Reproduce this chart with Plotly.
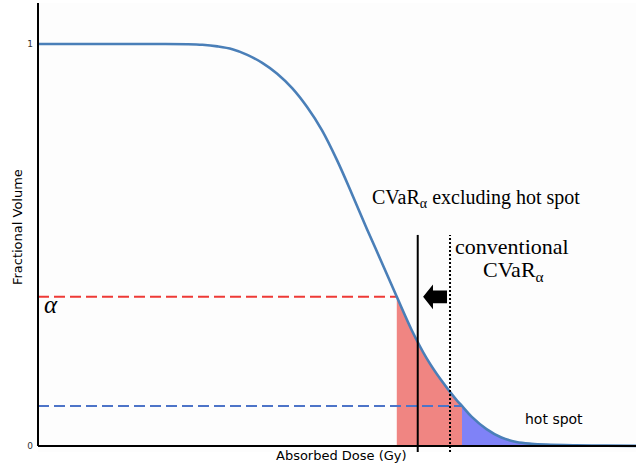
import plotly.graph_objects as go

# Dose-volume histogram curve (dose in arbitrary units 0..100, fractional volume)
dose = [0.0, 10.0, 20.0, 25.0, 27.5, 30.0, 32.5, 35.0, 37.5, 40.0, 42.5, 45.0, 47.5,
        50.0, 52.5, 55.0, 57.5, 60.0, 62.5, 65.0, 67.5, 70.0, 70.9, 72.5, 75.0, 77.5,
        80.0, 82.5, 85.0, 90.0, 95.0, 100.0]
volume = [1.0, 1.0, 1.0, 0.9995, 0.998, 0.994, 0.987, 0.973, 0.953, 0.926, 0.890, 0.843, 0.785,
          0.711, 0.627, 0.540, 0.456, 0.371, 0.288, 0.218, 0.162, 0.114, 0.0995, 0.073, 0.042, 0.021,
          0.010, 0.0055, 0.0035, 0.0018, 0.0008, 0.0003]

alpha = 0.371          # alpha level
var_dose = 60.0        # dose where curve meets alpha
hot_level = 0.0995     # hot spot level
hot_dose = 70.9        # dose where curve meets hot spot level
cvar_excl = 63.5       # CVaR excluding hot spot
cvar_conv = 68.9       # conventional CVaR
vline_top = 0.525
vline_bottom = -0.015

# arrow (pointing left, at alpha level)
arrow_tip = 64.4
arrow_neck = 66.05
arrow_tail = 68.4
arrow_head_half = 0.031
arrow_shaft_half = 0.016

ytick_vals = [0, 1]
ytick_text = ["0", "1"]

red_x = [d for d in dose if var_dose <= d <= hot_dose]
red_y = [v for d, v in zip(dose, volume) if var_dose <= d <= hot_dose]
blue_x = [d for d in dose if d >= hot_dose]
blue_y = [v for d, v in zip(dose, volume) if d >= hot_dose]

fig = go.Figure()
fig.add_trace(go.Scatter(x=red_x, y=red_y, mode="lines", line=dict(width=0, shape="spline"),
                         fill="tozeroy", fillcolor="#f08582", hoverinfo="skip"))
fig.add_trace(go.Scatter(x=blue_x, y=blue_y, mode="lines", line=dict(width=0, shape="spline"),
                         fill="tozeroy", fillcolor="#7f82f7", hoverinfo="skip"))
fig.add_trace(go.Scatter(x=[0, var_dose], y=[alpha, alpha], mode="lines",
                         line=dict(color="#ee3a36", width=2, dash="11px,5px")))
fig.add_trace(go.Scatter(x=[0, hot_dose], y=[hot_level, hot_level], mode="lines",
                         line=dict(color="#4d74c8", width=2, dash="11px,5px")))
fig.add_trace(go.Scatter(x=dose, y=volume, mode="lines",
                         line=dict(color="#4a7fb8", width=2.6, shape="spline", smoothing=1.0)))

shapes = [
    # axes lines
    dict(type="line", xref="paper", yref="y", x0=0, x1=0, y0=0, y1=1.102,
         line=dict(color="black", width=2)),
    dict(type="line", xref="paper", yref="y", x0=0, x1=1, y0=0, y1=0,
         line=dict(color="black", width=2)),
    # CVaR lines
    dict(type="line", xref="x", yref="y", x0=cvar_excl, x1=cvar_excl, y0=vline_bottom, y1=vline_top,
         line=dict(color="black", width=2)),
    dict(type="line", xref="x", yref="y", x0=cvar_conv, x1=cvar_conv, y0=vline_bottom, y1=vline_top,
         line=dict(color="black", width=2, dash="2px,2px")),
    # arrow
    dict(type="path", xref="x", yref="y",
         path=(f"M {arrow_tip},{alpha} L {arrow_neck},{alpha + arrow_head_half} "
               f"L {arrow_neck},{alpha + arrow_shaft_half} L {arrow_tail},{alpha + arrow_shaft_half} "
               f"L {arrow_tail},{alpha - arrow_shaft_half} L {arrow_neck},{alpha - arrow_shaft_half} "
               f"L {arrow_neck},{alpha - arrow_head_half} Z"),
         fillcolor="black", line=dict(width=0)),
]

serif = "Liberation Serif, DejaVu Serif, serif"
annotations = [
    dict(x=50.7, y=0, xref="x", yref="y", text="Absorbed Dose (Gy)", showarrow=False,
         yanchor="top", yshift=0, font=dict(family="DejaVu Sans", size=13, color="black")),
    dict(x=-0.05, y=0.5, xref="paper", yref="paper", text="Fractional Volume", showarrow=False,
         textangle=-90, font=dict(family="DejaVu Sans", size=13, color="black")),
    dict(x=73.2, y=0.615, xref="x", yref="y", text="CVaR<sub>α</sub> excluding hot spot",
         showarrow=False, font=dict(family=serif, size=20, color="black")),
    dict(x=79.2, y=0.497, xref="x", yref="y", text="conventional", showarrow=False,
         font=dict(family=serif, size=22, color="black")),
    dict(x=79.5, y=0.435, xref="x", yref="y", text="CVaR<sub>α</sub>", showarrow=False,
         font=dict(family=serif, size=22, color="black")),
    dict(x=2.1, y=0.352, xref="x", yref="y", text="<i>α</i>", showarrow=False,
         font=dict(family=serif, size=25, color="black")),
    dict(x=86.3, y=0.068, xref="x", yref="y", text="hot spot", showarrow=False,
         font=dict(family="DejaVu Sans", size=14, color="black")),
]

fig.update_layout(
    width=636, height=468,
    margin=dict(l=38, r=0, t=3, b=16),
    paper_bgcolor="white", plot_bgcolor="#fdfdfd",
    showlegend=False,
    shapes=shapes, annotations=annotations,
    xaxis=dict(range=[0, 100], showgrid=False, zeroline=False, showline=False,
               showticklabels=False, ticks=""),
    yaxis=dict(range=[vline_bottom, 1.102], showgrid=False, zeroline=False, showline=False,
               tickvals=ytick_vals, ticktext=ytick_text, ticks="", ticklabelstandoff=4,
               tickfont=dict(family="DejaVu Sans", size=9, color="#333333")),
)

fig.write_html("out.html")
